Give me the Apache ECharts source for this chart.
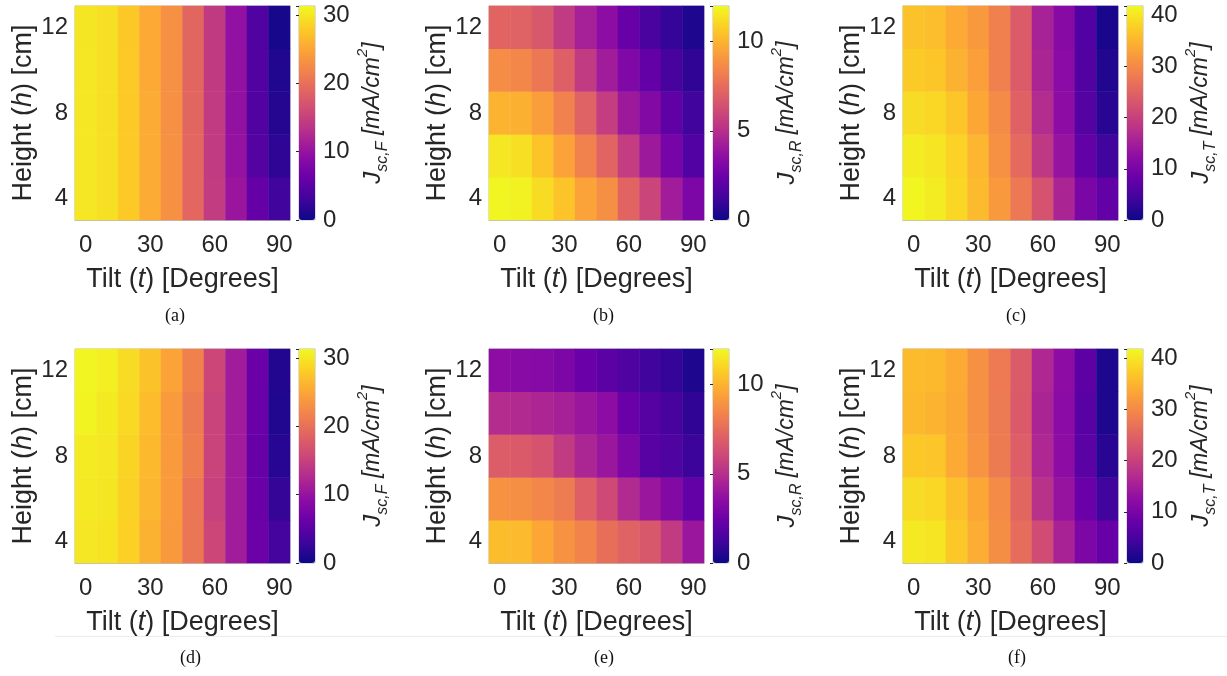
<!DOCTYPE html>
<html>
<head>
<meta charset="utf-8">
<script src="https://cdn.jsdelivr.net/npm/echarts@6/dist/echarts.min.js"></script>
<style>
  html, body { margin: 0; padding: 0; background: #fff; }
  #chart { width: 1227px; height: 676px; }
</style>
</head>
<body>
<div id="chart"></div>
<script>
// tilt (columns) and height (rows, bottom -> top)
const tilts = ['0', '10', '20', '30', '40', '50', '60', '70', '80', '90'];
const heights = ['4', '6', '8', '10', '12'];

// J_sc values [mA/cm2], one row per height (4 .. 12 cm)
const frontA = [
  [30.0, 29.5, 27.8, 25.4, 23.1, 19.1, 14.5, 10.3, 5.9, 3.1],
  [30.0, 29.5, 27.8, 25.4, 23.1, 19.1, 14.4, 9.9, 4.6, 2.0],
  [30.0, 29.5, 27.8, 25.4, 23.0, 19.0, 14.4, 9.8, 4.4, 1.4],
  [30.0, 29.4, 27.8, 25.3, 23.0, 19.0, 14.3, 9.8, 4.4, 1.2],
  [29.9, 29.4, 27.7, 25.3, 23.0, 19.0, 14.3, 9.7, 4.3, 0.6]
];
const rearB = [
  [11.9, 11.8, 11.2, 10.5, 9.5, 8.8, 7.2, 5.9, 4.2, 3.0],
  [11.5, 11.3, 10.5, 9.5, 8.3, 7.2, 5.6, 4.1, 2.8, 1.7],
  [10.0, 9.9, 9.3, 8.3, 7.1, 5.6, 4.1, 3.2, 2.1, 1.2],
  [8.7, 8.5, 7.9, 7.0, 5.5, 4.2, 3.1, 2.2, 1.4, 0.8],
  [7.2, 7.1, 6.7, 5.5, 4.4, 3.5, 2.3, 1.5, 0.9, 0.4]
];
const totalC = [
  [41.5, 40.5, 38.5, 35.5, 31.8, 27.8, 22.6, 15.9, 10.2, 7.5],
  [40.5, 39.9, 38.0, 35.1, 30.9, 25.9, 18.8, 13.4, 7.5, 4.2],
  [38.9, 38.5, 36.8, 33.4, 30.1, 24.7, 17.1, 12.2, 6.2, 2.2],
  [37.2, 36.8, 34.7, 32.6, 28.8, 23.8, 15.9, 12.0, 6.0, 1.6],
  [36.4, 36.0, 33.9, 31.8, 28.8, 23.8, 15.5, 11.7, 5.9, 0.9]
];
const frontD = [
  [30.0, 29.8, 28.3, 26.0, 23.8, 20.5, 15.6, 11.0, 6.5, 3.4],
  [30.1, 29.9, 28.4, 26.3, 24.0, 20.5, 15.0, 11.0, 6.2, 2.4],
  [30.3, 30.0, 28.6, 26.5, 24.0, 21.3, 15.3, 11.0, 6.0, 1.5],
  [30.9, 30.2, 29.0, 26.8, 24.0, 21.0, 15.3, 11.0, 6.2, 1.2],
  [31.0, 30.6, 29.1, 27.2, 24.7, 21.6, 15.6, 11.0, 6.3, 1.3]
];
const rearE = [
  [10.3, 10.2, 9.6, 8.9, 8.4, 7.6, 7.1, 6.7, 5.5, 4.0],
  [8.9, 8.8, 8.5, 8.1, 7.0, 6.1, 4.8, 4.0, 3.2, 2.2],
  [6.9, 6.8, 6.5, 5.5, 4.6, 4.0, 3.0, 1.9, 1.6, 1.1],
  [4.9, 4.8, 4.6, 4.4, 4.0, 3.5, 2.4, 1.8, 1.4, 0.8],
  [3.5, 3.4, 3.3, 3.0, 2.4, 2.0, 1.6, 1.2, 0.9, 0.4]
];
const totalF = [
  [40.2, 39.9, 37.0, 34.2, 30.5, 26.2, 21.6, 15.6, 10.5, 8.2],
  [38.9, 38.5, 36.3, 33.4, 30.1, 25.4, 17.9, 13.4, 8.4, 4.2],
  [37.0, 36.7, 33.9, 31.2, 28.1, 24.2, 16.3, 12.3, 6.7, 2.2],
  [35.4, 34.8, 33.7, 30.8, 27.9, 23.7, 15.8, 12.0, 6.6, 1.3],
  [35.6, 35.4, 33.9, 30.9, 28.0, 23.8, 16.3, 12.2, 7.0, 1.3]
];

// colorbar limits and tick steps
const cbarMax = [31.3, 12, 41.8];
const cbarStep = [10, 5, 10];

const plasma = ['#0d0887', '#41049d', '#6a00a8', '#8f0da4', '#b12a90', '#cc4778',
  '#e16462', '#f2844b', '#fca636', '#fcce25', '#f0f921'];

const FONT = '"Liberation Sans", Arial, sans-serif';
const TXT = '#262626';
const FRAME = '#bdbdbd';

const panels = [
  { values: frontA, kind: 0, sub: 'sc,F', tag: '(a)', x: 75, y: 6, tagX: 177, tagY: 318 },
  { values: rearB, kind: 1, sub: 'sc,R', tag: '(b)', x: 489, y: 6, tagX: 605, tagY: 318 },
  { values: totalC, kind: 2, sub: 'sc,T', tag: '(c)', x: 903, y: 6, tagX: 1018, tagY: 318 },
  { values: frontD, kind: 0, sub: 'sc,F', tag: '(d)', x: 75, y: 349, tagX: 192, tagY: 660 },
  { values: rearE, kind: 1, sub: 'sc,R', tag: '(e)', x: 489, y: 349, tagX: 606, tagY: 660 },
  { values: totalF, kind: 2, sub: 'sc,T', tag: '(f)', x: 903, y: 349, tagX: 1020, tagY: 660 }
];

const grid = [], xAxis = [], yAxis = [], series = [], visualMap = [], graphic = [];

panels.forEach(function (p, k) {
  const max = cbarMax[p.kind], step = cbarStep[p.kind];
  const data = [];
  p.values.forEach(function (row, i) {
    row.forEach(function (v, j) { data.push([j, i, v]); });
  });

  // heatmap grid
  grid.push({ left: p.x, top: p.y, width: 215, height: 214, show: true, borderColor: FRAME, borderWidth: 1 });
  // colorbar grid
  grid.push({ left: p.x + 224, top: p.y, width: 16, height: 214, show: true, borderColor: FRAME, borderWidth: 1 });

  xAxis.push({
    type: 'category', gridIndex: 2 * k, data: tilts,
    axisLine: { lineStyle: { color: FRAME } },
    axisTick: { inside: true, alignWithLabel: true, interval: 2, length: 4, lineStyle: { color: TXT } },
    axisLabel: { interval: 2, fontSize: 24, fontFamily: FONT, color: TXT, margin: 13 },
    splitLine: { show: false },
    name: '{n|Tilt (}{i|t}{n|) [Degrees]}',
    nameLocation: 'middle', nameGap: 46,
    nameTextStyle: {
      rich: {
        n: { fontSize: 27, fontFamily: FONT, color: TXT },
        i: { fontSize: 27, fontFamily: FONT, color: TXT, fontStyle: 'italic' }
      }
    }
  });
  xAxis.push({ type: 'value', gridIndex: 2 * k + 1, show: false, min: 0, max: 1 });

  yAxis.push({
    type: 'category', gridIndex: 2 * k, data: heights,
    axisLine: { lineStyle: { color: FRAME } },
    axisTick: { inside: true, alignWithLabel: true, interval: 1, length: 4, lineStyle: { color: TXT } },
    axisLabel: { interval: 1, fontSize: 24, fontFamily: FONT, color: TXT, margin: 7 },
    splitLine: { show: false },
    name: '{n|Height (}{i|h}{n|) [cm]}',
    nameLocation: 'middle', nameRotate: 90, nameGap: 36,
    nameTextStyle: {
      rich: {
        n: { fontSize: 27, fontFamily: FONT, color: TXT },
        i: { fontSize: 27, fontFamily: FONT, color: TXT, fontStyle: 'italic' }
      }
    }
  });
  yAxis.push({
    type: 'value', gridIndex: 2 * k + 1, position: 'right', min: 0, max: max, interval: step,
    axisLine: { show: false },
    axisTick: { inside: true, length: 3, lineStyle: { color: TXT } },
    axisLabel: {
      fontSize: 24, fontFamily: FONT, color: TXT, margin: 8,
      formatter: function (v) { return v % step === 0 ? String(v) : ''; }
    },
    splitLine: { show: false },
    name: '{j|J}{s|' + p.sub + '}{u| [mA/cm}{p|2}{u|]}',
    nameLocation: 'middle', nameRotate: 90, nameGap: 40,
    nameTextStyle: {
      rich: {
        j: { fontSize: 24, fontFamily: FONT, color: TXT, fontStyle: 'italic', lineHeight: 36 },
        s: { fontSize: 16, fontFamily: FONT, color: TXT, fontStyle: 'italic', verticalAlign: 'bottom', lineHeight: 16 },
        u: { fontSize: 23, fontFamily: FONT, color: TXT, fontStyle: 'italic' },
        p: { fontSize: 15, fontFamily: FONT, color: TXT, fontStyle: 'italic', verticalAlign: 'top', lineHeight: 15 }
      }
    }
  });

  visualMap.push({
    type: 'continuous', seriesIndex: k, min: 0, max: max,
    calculable: false, hoverLink: false, realtime: false,
    left: p.x + 224, top: p.y, itemWidth: 16, itemHeight: 214, padding: 0,
    inRange: { color: plasma }
  });

  series.push({
    type: 'heatmap', xAxisIndex: 2 * k, yAxisIndex: 2 * k, data: data,
    itemStyle: { borderWidth: 0 }, emphasis: { disabled: true }
  });

  graphic.push({
    type: 'text', left: p.tagX - 12, top: p.tagY - 11,
    style: { text: p.tag, font: '18px "Liberation Serif", "Times New Roman", serif', fill: '#111' }
  });
});

graphic.push({
  type: 'line', shape: { x1: 55, y1: 636.5, x2: 1227, y2: 636.5 },
  style: { stroke: '#ececec', lineWidth: 1 }, silent: true
});

const chart = echarts.init(document.getElementById('chart'));
chart.setOption({
  animation: false,
  backgroundColor: '#fff',
  grid: grid,
  xAxis: xAxis,
  yAxis: yAxis,
  visualMap: visualMap,
  series: series,
  graphic: graphic
});
</script>
</body>
</html>
